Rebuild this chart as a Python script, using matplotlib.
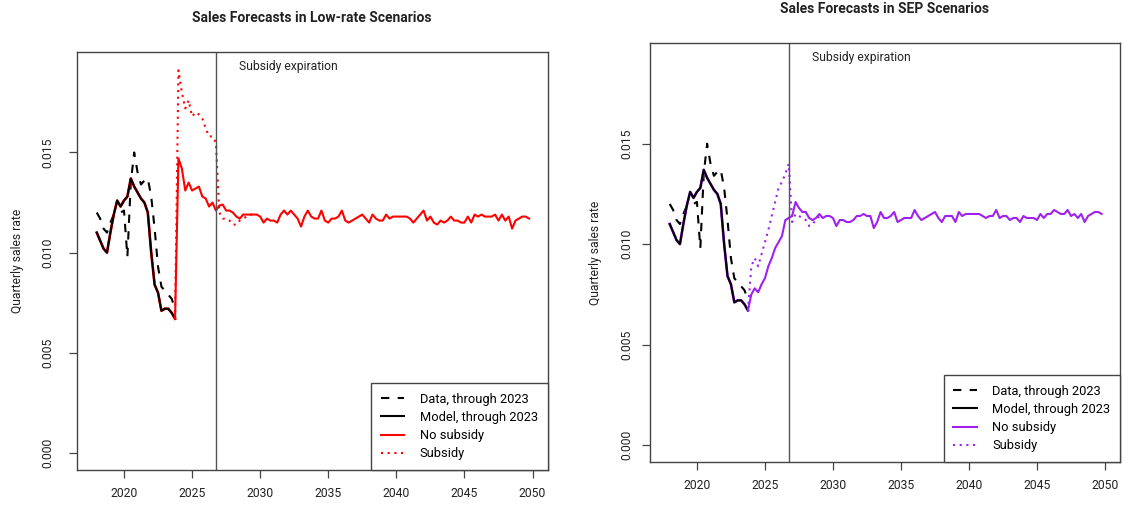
import numpy as np
import matplotlib
matplotlib.use("Agg")
import matplotlib.pyplot as plt

plt.rcParams["font.family"] = ["Roboto", "DejaVu Sans"]

# quarterly history, 2018Q1 - 2023Q4
hist_t = np.arange(2018.0, 2024.0, 0.25)
data_hist = [0.0120, 0.0117, 0.0112, 0.0110, 0.0115, 0.0119, 0.0120, 0.0120,
             0.0121, 0.0098, 0.0135, 0.0150, 0.0140, 0.0134, 0.0136, 0.0137,
             0.0128, 0.0112, 0.0093, 0.0083, 0.0081, 0.0079, 0.0077, 0.0072]
model_hist = [0.0110, 0.0106, 0.0102, 0.0100, 0.0110, 0.0119, 0.0126, 0.0123,
              0.0126, 0.0128, 0.0137, 0.0133, 0.0130, 0.0127, 0.0125, 0.0120,
              0.0100, 0.0084, 0.0080, 0.0071, 0.0072, 0.0072, 0.0070, 0.0067]

# forecasts start from the last model quarter
fc_t = np.arange(2023.75, 2050.0, 0.25)

# low-rate scenario
low_nosub = [0.0067, 0.0147, 0.0142, 0.0131, 0.0135, 0.0131, 0.0132, 0.0133,
             0.0128, 0.0127, 0.0123, 0.0125,
             0.0121, 0.01235, 0.0124, 0.0121, 0.0121, 0.0120, 0.0118, 0.0117,
             0.0119, 0.0119, 0.0119, 0.0119, 0.0119, 0.0118, 0.0115, 0.0117,
             0.0116, 0.0116, 0.0115, 0.0119, 0.0121, 0.0119, 0.0121, 0.0119,
             0.0117, 0.0113, 0.0118, 0.0121, 0.0118, 0.0117, 0.0117, 0.0121,
             0.0116, 0.0115, 0.0117, 0.0117, 0.0118, 0.0121, 0.0116, 0.0115,
             0.0116, 0.0117, 0.0118, 0.0119, 0.0117, 0.0115, 0.0119, 0.0117,
             0.0116, 0.0116, 0.0119, 0.0117, 0.0118, 0.0118, 0.0118, 0.0118,
             0.0118, 0.0117, 0.0115, 0.0117, 0.0119, 0.0121, 0.0116, 0.0118,
             0.0115, 0.0114, 0.0116, 0.0115, 0.0116, 0.0118, 0.0116, 0.0116,
             0.0115, 0.0115, 0.0118, 0.0115, 0.0119, 0.0118, 0.0119, 0.0118,
             0.0118, 0.0118, 0.0119, 0.0116, 0.0119, 0.0116, 0.0118, 0.0112,
             0.0116, 0.0117, 0.0118, 0.0118, 0.0117]
low_sub = [0.0067, 0.0191, 0.0180, 0.0172, 0.0176, 0.0168, 0.0170, 0.0169,
           0.0167, 0.0162, 0.0158, 0.0158, 0.0155, 0.0120, 0.0117, 0.0117,
           0.0116, 0.0114, 0.0114, 0.0116, 0.0117, 0.0118, 0.0119, 0.0119]

# SEP scenario
sep_nosub = [0.0067, 0.0075, 0.0078, 0.0076, 0.0080, 0.0083, 0.0089, 0.0093,
             0.0098, 0.0101, 0.0104, 0.0112,
             0.0113, 0.0114, 0.0121, 0.0118, 0.0116, 0.0116, 0.0113, 0.0112,
             0.0113, 0.0115, 0.0113, 0.0114, 0.0114, 0.0113, 0.0109, 0.0112,
             0.0112, 0.0111, 0.0111, 0.0112, 0.0114, 0.0114, 0.0115, 0.0114,
             0.0114, 0.0108, 0.0111, 0.0116, 0.0113, 0.0113, 0.0114, 0.0116,
             0.0111, 0.0112, 0.0113, 0.0113, 0.0113, 0.0117, 0.0114, 0.0112,
             0.0113, 0.0114, 0.0115, 0.0116, 0.0113, 0.0111, 0.0114, 0.0114,
             0.0114, 0.0111, 0.0116, 0.0114, 0.0115, 0.0115, 0.0115, 0.0115,
             0.0115, 0.0114, 0.0113, 0.0114, 0.0114, 0.0117, 0.0113, 0.0114,
             0.0114, 0.0112, 0.0113, 0.0113, 0.0111, 0.0114, 0.0113, 0.0113,
             0.0113, 0.0112, 0.0115, 0.0113, 0.0115, 0.0115, 0.0117, 0.0116,
             0.0115, 0.0115, 0.0117, 0.0114, 0.0115, 0.0113, 0.0115, 0.0111,
             0.0114, 0.0115, 0.0116, 0.0116, 0.0115]
sep_sub = [0.0067, 0.0089, 0.0093, 0.0089, 0.0095, 0.0101, 0.0107, 0.0114,
           0.0121, 0.0128, 0.0131, 0.0135, 0.0140, 0.0111, 0.0115, 0.0114,
           0.0113, 0.0112, 0.0109, 0.0110, 0.0112, 0.0114]

expiry = 2026.75
year_ticks = [2020, 2025, 2030, 2035, 2040, 2045, 2050]
rate_ticks = [0.0, 0.005, 0.010, 0.015]

SPINE = "#444444"
TEXT = "#222222"
LW = 1.5


def draw_panel(ax, title_xy, title, color, nosub, sub, ylab_x, ypad):
    ylim = (-0.00085, 0.0200)
    ax.plot(hist_t, data_hist, color="black", lw=LW, linestyle=(0, (4, 4)),
            label="Data, through 2023")
    # scenario colour runs under the model history
    ax.plot(hist_t, model_hist, color=color, lw=LW + 0.4)
    ax.plot(hist_t, model_hist, color="black", lw=LW, label="Model, through 2023")
    ax.plot(fc_t[:len(nosub)], nosub, color=color, lw=LW, label="No subsidy")
    ax.plot(fc_t[:len(sub)], sub, color=color, lw=LW, linestyle=(0, (1, 2.2)),
            label="Subsidy")
    ax.axvline(expiry, color="#555555", lw=1.0)
    ax.text(expiry + 1.7, ylim[1] - 0.0007, "Subsidy expiration", fontsize=8.7,
            ha="left", va="center", color=TEXT)

    ax.set_xlim(2016.55, 2051.1)
    ax.set_ylim(*ylim)
    ax.set_xticks(year_ticks)
    ax.set_yticks(rate_ticks)
    ax.set_yticklabels([f"{v:.3f}" for v in rate_ticks], rotation=90, va="center")
    ax.tick_params(direction="out", length=6, width=0.9, color=SPINE,
                   labelsize=8.7, labelcolor=TEXT)
    ax.tick_params(axis="x", pad=6)
    ax.tick_params(axis="y", pad=ypad)
    for sp in ax.spines.values():
        sp.set_color(SPINE)
        sp.set_linewidth(1.0)
    ax.set_ylabel("Quarterly sales rate", fontsize=8.7, color=TEXT)
    ax.yaxis.set_label_coords(ylab_x, 0.5)

    leg = ax.legend(loc="lower right", borderaxespad=0, fancybox=False,
                    fontsize=9.3, handlelength=1.8, handletextpad=1.2,
                    labelspacing=0.4, borderpad=0.75, framealpha=1)
    leg.get_frame().set_edgecolor(SPINE)
    leg.get_frame().set_linewidth(1.0)

    fig.text(title_xy[0], title_xy[1], title, fontsize=10, fontweight="bold",
             ha="center", va="center", color=TEXT)


fig = plt.figure(figsize=(11.25, 5.07), dpi=100)
W, H = 1125, 507

ax1 = fig.add_axes([77 / W, 1 - 470 / H, 470.5 / W, 417.7 / H])
draw_panel(ax1, (312 / W, 1 - 18 / H), "Sales Forecasts in Low-rate Scenarios",
           "#FF0000", low_nosub, low_sub, -0.113, 10)

ax2 = fig.add_axes([650 / W, 1 - 462 / H, 470 / W, 418.7 / H])
draw_panel(ax2, (885 / W, 1 - 9.3 / H), "Sales Forecasts in SEP Scenarios",
           "#A020F0", sep_nosub, sep_sub, -0.102, 6)

fig.savefig("out.png", dpi=100)
